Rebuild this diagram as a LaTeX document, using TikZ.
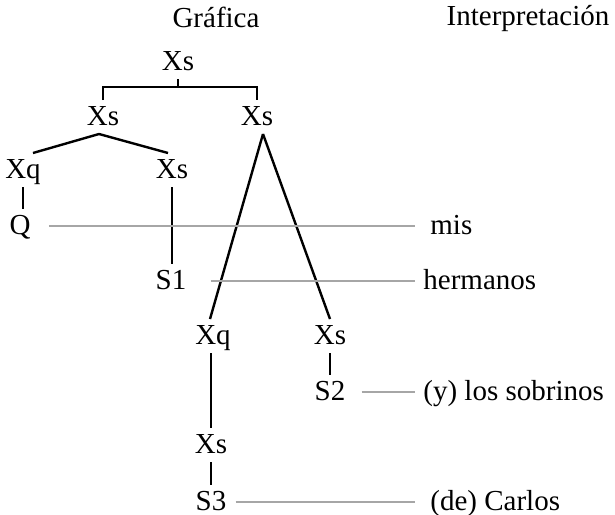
\documentclass[tikz,border=0pt]{standalone}
\usepackage{fontspec}
\setmainfont{Liberation Serif}

\begin{document}
\begin{tikzpicture}[x=0.5pt,y=-0.5pt,font=\fontsize{14.5}{17}\selectfont,
    cat/.style={inner sep=4pt,text height=8.6pt,text depth=0pt},
    lab/.style={cat,anchor=west},
    rama/.style={black,line width=1.2pt},
    guia/.style={black!35,line width=1.1pt}]
  \useasboundingbox (0,0) rectangle (615,514);

  \node[cat] (hgraf) at (216,19)  {Gráfica};
  \node[cat] (hint)  at (528,17)  {Interpretación};

  % arbol
  \node[cat] (root) at (178,62)  {Xs};
  \node[cat] (xsl)  at (103,117) {Xs};
  \node[cat] (xsr)  at (257,117) {Xs};
  \node[cat] (xqa)  at (23,170)  {Xq};
  \node[cat] (xsa)  at (172,170) {Xs};
  \node[cat] (q)    at (20,226)  {Q};
  \node[cat] (sa)   at (171,281) {S1};
  \node[cat] (xqb)  at (213,336) {Xq};
  \node[cat] (xsb)  at (330,336) {Xs};
  \node[cat] (sb)   at (330,392) {S2};
  \node[cat] (xsc)  at (211,445) {Xs};
  \node[cat] (sc)   at (211,502) {S3};

  % interpretacion
  \node[lab,inner xsep=7.5pt] (mis)  at (415,226) {mis};
  \node[lab] (herm) at (415,281) {hermanos};
  \node[lab] (sobr) at (415,392) {(y) los sobrinos};
  \node[lab,inner xsep=7.5pt] (carl) at (415,502) {(de) Carlos};

  \coordinate (br) at (178,87);
  \draw[rama] (root.south) -- (br);
  \draw[rama] (xsl.north) |- (br) -| (xsr.north);
  \draw[rama] ([xshift=-2pt]xsl.south) -- ([xshift=5pt]xqa.north);
  \draw[rama] ([xshift=-2pt]xsl.south) -- ([xshift=-2pt]xsa.north);
  \draw[rama] (xqa.south) -- (xqa.south |- q.north);
  \draw[rama] (xsa.south) -- (xsa.south |- sa.north);
  \draw[rama] ([xshift=3pt]xsr.south) -- ([xshift=-1.5pt]xqb.north);
  \draw[rama] ([xshift=3pt]xsr.south) -- (xsb.north);
  \draw[rama] (xsc.north |- xqb.south) -- (xsc.north);
  \draw[rama] (xsc.south) -- (sc.north);
  \draw[rama] (xsb.south) -- (sb.north);

  \draw[guia] ([xshift=5pt]q.east)  -- (mis.west);
  \draw[guia] ([xshift=8pt]sa.east) -- (herm.west);
  \draw[guia] ([xshift=4pt]sb.east) -- (sobr.west);
  \draw[guia] ([xshift=0.5pt]sc.east) -- (carl.west);
\end{tikzpicture}
\end{document}
